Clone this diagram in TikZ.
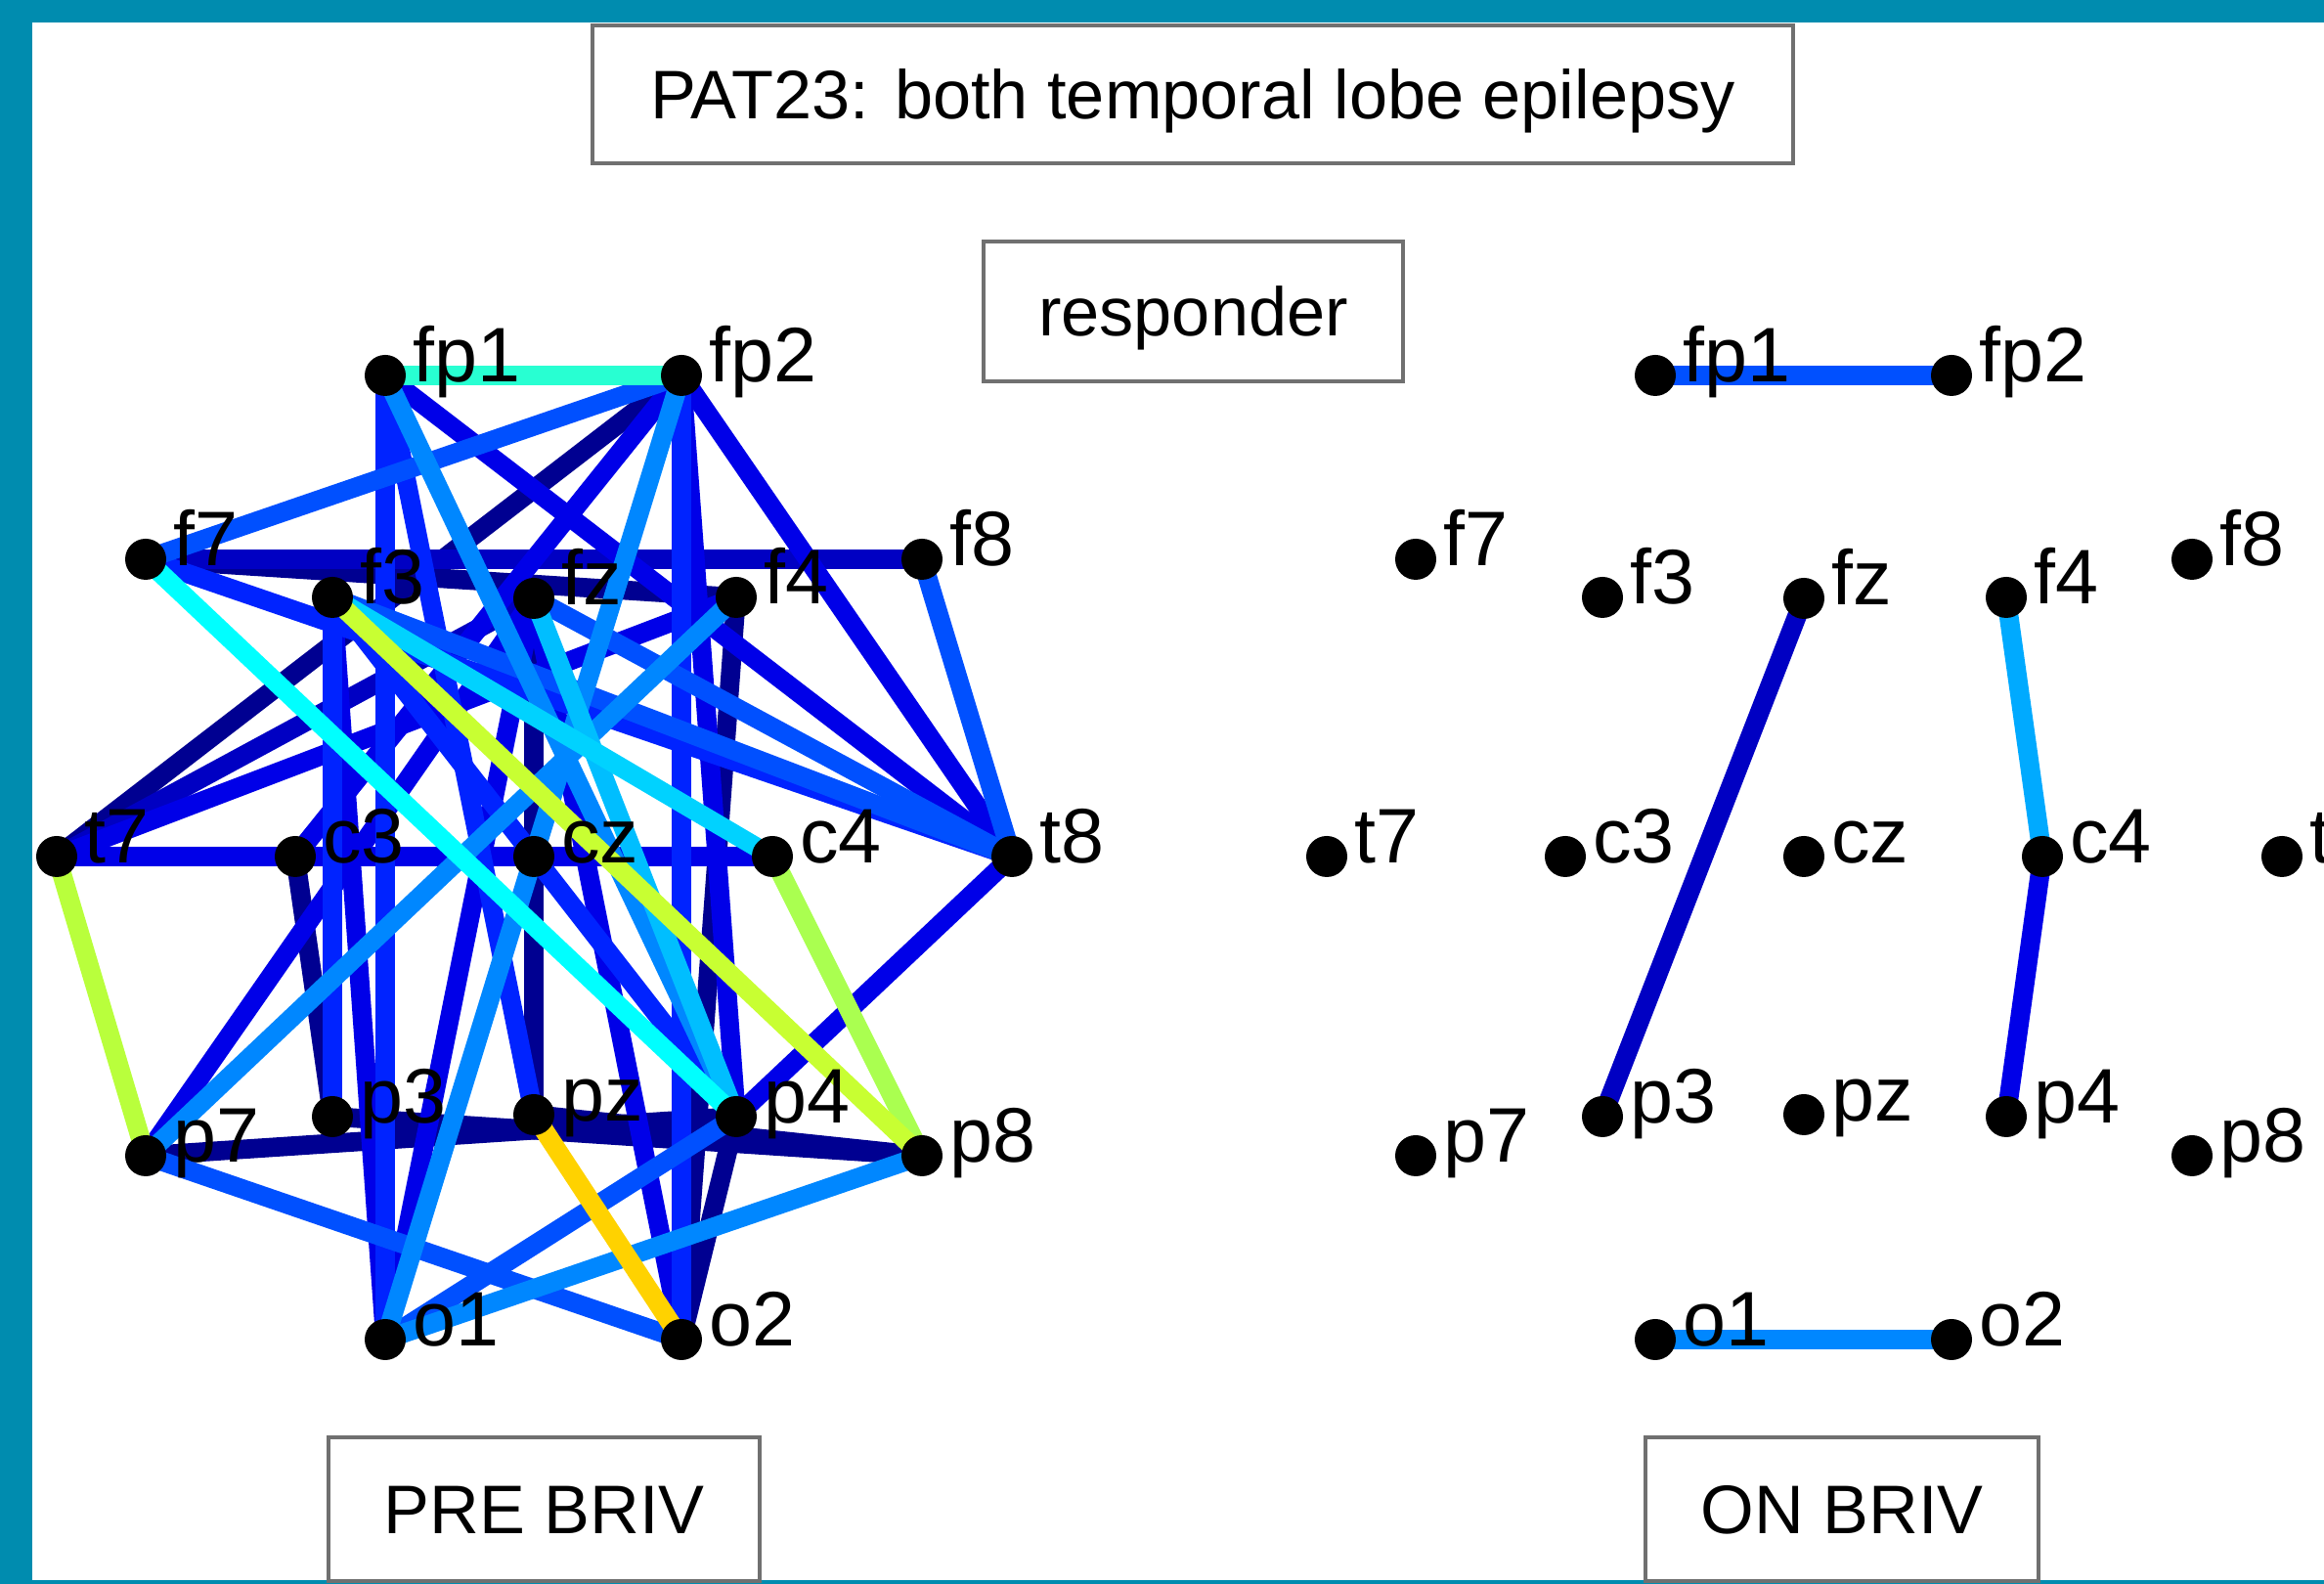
\documentclass[tikz,border=0pt]{standalone}
\usepackage{fontspec}
\setmainfont{Liberation Sans}
\usetikzlibrary{backgrounds}
\definecolor{frameteal}{RGB}{0,140,175}
\definecolor{boxgray}{RGB}{112,112,112}
\definecolor{navy}{RGB}{0,0,145}
\definecolor{dkblue}{RGB}{0,0,195}
\definecolor{jblue}{RGB}{0,0,232}
\definecolor{blueA}{RGB}{0,35,255}
\definecolor{blueB}{RGB}{0,80,255}
\definecolor{ltblue}{RGB}{0,135,255}
\definecolor{skyblue}{RGB}{0,170,255}
\definecolor{cyanA}{RGB}{0,210,255}
\definecolor{cyanB}{RGB}{0,190,255}
\definecolor{jcyan}{RGB}{0,255,255}
\definecolor{aqua}{RGB}{40,255,210}
\definecolor{ygreen}{RGB}{200,255,50}
\definecolor{lgreen}{RGB}{170,255,80}
\definecolor{tgreen}{RGB}{185,255,60}
\definecolor{gold}{RGB}{255,210,0}
\begin{document}
\begin{tikzpicture}[
    elec/.style={circle, fill=black, inner sep=0pt, minimum size=0.42cm},
    lbl/.style={font=\fontsize{22.5}{22.5}\selectfont, anchor=base west, inner sep=0pt, xshift=0.06cm, yshift=-0.07cm},
    box/.style={draw=boxgray, line width=1pt, fill=white, font=\fontsize{20}{20}\selectfont, inner sep=0pt, text height=0.5cm, text depth=0pt},
    link/.style={line width=5.6pt}
]
    \useasboundingbox (0,0) rectangle (23.77,16.20);
    % Frame
    \begin{scope}[on background layer]
        \fill[frameteal] (0,0) rectangle (23.77,16.20);
        \fill[white] (0.33,0.04) rectangle (23.77,15.97);
    \end{scope}

    % Titles
    \node[box, minimum width=12.28cm, minimum height=1.41cm] (title) at (12.20,15.235) {PAT23: both temporal lobe epilepsy};
    \node[box, minimum width=4.29cm, minimum height=1.43cm] (resp) at (12.205,13.015) {responder};
    \node[box, minimum width=4.41cm, minimum height=1.47cm] (pre) at (5.565,0.765) {PRE BRIV};
    \node[box, minimum width=4.02cm, minimum height=1.47cm] (on) at (18.84,0.765) {ON BRIV};

    % Electrodes, PRE BRIV
    \node[elec, label={[lbl]east:fp1}] (Lfp1) at (3.94,12.36) {};
    \node[elec, label={[lbl]east:fp2}] (Lfp2) at (6.97,12.36) {};
    \node[elec, label={[lbl]east:f7}] (Lf7) at (1.49,10.48) {};
    \node[elec, label={[lbl]east:f3}] (Lf3) at (3.40,10.09) {};
    \node[elec, label={[lbl]east:fz}] (Lfz) at (5.46,10.08) {};
    \node[elec, label={[lbl]east:f4}] (Lf4) at (7.53,10.09) {};
    \node[elec, label={[lbl]east:f8}] (Lf8) at (9.43,10.48) {};
    \node[elec, label={[lbl]east:t7}] (Lt7) at (0.58,7.44) {};
    \node[elec, label={[lbl]east:c3}] (Lc3) at (3.02,7.44) {};
    \node[elec, label={[lbl]east:cz}] (Lcz) at (5.46,7.44) {};
    \node[elec, label={[lbl]east:c4}] (Lc4) at (7.90,7.44) {};
    \node[elec, label={[lbl]east:t8}] (Lt8) at (10.35,7.44) {};
    \node[elec, label={[lbl]east:p7}] (Lp7) at (1.49,4.38) {};
    \node[elec, label={[lbl]east:p3}] (Lp3) at (3.40,4.78) {};
    \node[elec, label={[lbl]east:pz}] (Lpz) at (5.46,4.80) {};
    \node[elec, label={[lbl]east:p4}] (Lp4) at (7.53,4.78) {};
    \node[elec, label={[lbl]east:p8}] (Lp8) at (9.43,4.38) {};
    \node[elec, label={[lbl]east:o1}] (Lo1) at (3.94,2.50) {};
    \node[elec, label={[lbl]east:o2}] (Lo2) at (6.97,2.50) {};

    % Electrodes, ON BRIV
    \node[elec, label={[lbl]east:fp1}] (Rfp1) at (16.93,12.36) {};
    \node[elec, label={[lbl]east:fp2}] (Rfp2) at (19.96,12.36) {};
    \node[elec, label={[lbl]east:f7}] (Rf7) at (14.48,10.48) {};
    \node[elec, label={[lbl]east:f3}] (Rf3) at (16.39,10.09) {};
    \node[elec, label={[lbl]east:fz}] (Rfz) at (18.45,10.08) {};
    \node[elec, label={[lbl]east:f4}] (Rf4) at (20.52,10.09) {};
    \node[elec, label={[lbl]east:f8}] (Rf8) at (22.42,10.48) {};
    \node[elec, label={[lbl]east:t7}] (Rt7) at (13.57,7.44) {};
    \node[elec, label={[lbl]east:c3}] (Rc3) at (16.01,7.44) {};
    \node[elec, label={[lbl]east:cz}] (Rcz) at (18.45,7.44) {};
    \node[elec, label={[lbl]east:c4}] (Rc4) at (20.89,7.44) {};
    \node[elec, label={[lbl]east:t8}] (Rt8) at (23.34,7.44) {};
    \node[elec, label={[lbl]east:p7}] (Rp7) at (14.48,4.38) {};
    \node[elec, label={[lbl]east:p3}] (Rp3) at (16.39,4.78) {};
    \node[elec, label={[lbl]east:pz}] (Rpz) at (18.45,4.80) {};
    \node[elec, label={[lbl]east:p4}] (Rp4) at (20.52,4.78) {};
    \node[elec, label={[lbl]east:p8}] (Rp8) at (22.42,4.38) {};
    \node[elec, label={[lbl]east:o1}] (Ro1) at (16.93,2.50) {};
    \node[elec, label={[lbl]east:o2}] (Ro2) at (19.96,2.50) {};

    % Links, PRE BRIV
    \begin{scope}[on background layer]
        % weak links
        \draw[link, navy] (Lfp2.center) -- (Lt7.center);
        \draw[link, navy] (Lf7.center) -- (Lf4.center);
        \draw[link, navy] (Lc3.center) -- (Lp3.center);
        \draw[link, navy] (Lfz.center) -- (Lpz.center);
        \draw[link, navy] (Lp7.center) -- (Lp4.center);
        \draw[link, navy] (Lp3.center) -- (Lp8.center);
        \draw[link, navy] (Lpz.center) -- (Lp8.center);
        \draw[link, navy] (Lf4.center) -- (Lo2.center);
        \draw[link, navy] (Lp4.center) -- (Lo2.center);
        \draw[link, dkblue] (Lt7.center) -- (Lfz.center);
        \draw[link, dkblue] (Lf7.center) -- (Lf8.center);
        \draw[link, jblue] (Lt7.center) -- (Lc4.center);
        \draw[link, jblue] (Lt7.center) -- (Lf4.center);
        \draw[link, jblue] (Lfp1.center) -- (Lt8.center);
        \draw[link, jblue] (Lfp2.center) -- (Lt8.center);
        \draw[link, jblue] (Lt8.center) -- (Lp4.center);
        \draw[link, jblue] (Lp7.center) -- (Lfz.center);
        \draw[link, jblue] (Lf3.center) -- (Lo1.center);
        \draw[link, jblue] (Lfz.center) -- (Lo1.center);
        \draw[link, jblue] (Lfz.center) -- (Lo2.center);
        \draw[link, jblue] (Lfp2.center) -- (Lc3.center);
        \draw[link, jblue] (Lfp2.center) -- (Lp4.center);
        \draw[link, blueA] (Lfp1.center) -- (Lo1.center);
        \draw[link, blueA] (Lfp2.center) -- (Lo2.center);
        \draw[link, blueA] (Lf3.center) -- (Lp3.center);
        \draw[link, blueA] (Lf3.center) -- (Lp4.center);
        \draw[link, blueA] (Lfp1.center) -- (Lpz.center);
        \draw[link, blueA] (Lf7.center) -- (Lt8.center);
        \draw[link, blueB] (Lf3.center) -- (Lt8.center);
        \draw[link, blueB] (Lfz.center) -- (Lt8.center);
        \draw[link, blueB] (Lf8.center) -- (Lt8.center);
        \draw[link, blueB] (Lf7.center) -- (Lfp2.center);
        \draw[link, blueB] (Lp7.center) -- (Lo2.center);
        \draw[link, blueB] (Lp4.center) -- (Lo1.center);
        % medium links
        \draw[link, ltblue] (Lp8.center) -- (Lo1.center);
        \draw[link, ltblue] (Lp7.center) -- (Lf4.center);
        \draw[link, ltblue] (Lfp2.center) -- (Lo1.center);
        \draw[link, ltblue] (Lfp1.center) -- (Lp4.center);
        \draw[link, cyanB] (Lfz.center) -- (Lp4.center);
        \draw[link, cyanA] (Lf3.center) -- (Lc4.center);
        \draw[link, jcyan] (Lf7.center) -- (Lp4.center);
        \draw[link, aqua] (Lfp1.center) -- (Lfp2.center);
        % strong links
        \draw[link, tgreen] (Lt7.center) -- (Lp7.center);
        \draw[link, lgreen] (Lc4.center) -- (Lp8.center);
        \draw[link, ygreen] (Lf3.center) -- (Lp8.center);
        \draw[link, gold] (Lpz.center) -- (Lo2.center);
    \end{scope}

    % Links, ON BRIV
    \begin{scope}[on background layer]
        \draw[link, blueB] (Rfp1.center) -- (Rfp2.center);
        \draw[link, dkblue] (Rfz.center) -- (Rp3.center);
        \draw[link, skyblue] (Rf4.center) -- (Rc4.center);
        \draw[link, jblue] (Rc4.center) -- (Rp4.center);
        \draw[link, ltblue] (Ro1.center) -- (Ro2.center);
    \end{scope}
\end{tikzpicture}
\end{document}
